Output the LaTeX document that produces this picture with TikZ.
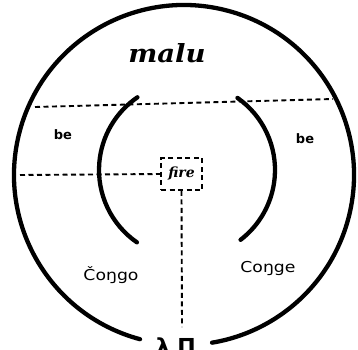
\documentclass[tikz,border=0pt]{standalone}
\usepackage{fontspec}
\newfontfamily\dejavu{DejaVu Sans}
\newfontfamily\dserif{DejaVu Serif}
\begin{document}
\begin{tikzpicture}[x=1pt,y=-1pt,
  thickline/.style={line width=4.3pt,line cap=round},
  dashline/.style={line width=1.9pt,dash pattern=on 5pt off 3.5pt},
  hand/.style={font=\dserif\fontsize{25}{25}\selectfont\bfseries\itshape},
  word/.style={font=\dejavu\fontsize{15}{15}\selectfont},
  belab/.style={font=\dejavu\fontsize{13}{13}\selectfont\bfseries}]
\useasboundingbox (0,0) rectangle (358,349);
% outer circle with a gap at the bottom
\draw[thickline] (184,175) ++(105:170) arc[start angle=105,end angle=440.5,radius=170];
% inner arcs
\draw[thickline] (187,170) ++(124.7:88) arc[start angle=124.7,end angle=235.7,radius=88];
\draw[thickline] (187,170) ++(-55:88) arc[start angle=-55,end angle=52.5,radius=88];
% labels
\node[hand,xscale=1.1] (malu) at (167,53) {malu};
\node[belab] (beL) at (63,135) {be};
\node[belab] (beR) at (305,139) {be};
\node[word,xscale=1.15] (congoL) at (111,275) {Čoŋgo};
\node[word,xscale=1.15] (congoR) at (268,268) {Coŋge};
\node[dashline,draw,minimum width=41pt,minimum height=32pt,inner sep=0pt,
      font=\dserif\fontsize{14}{14}\selectfont\bfseries\itshape] (fire) at (181.5,174) {fire};
\node[anchor=north,font=\dejavu\fontsize{22}{22}\selectfont\bfseries] (bottom) at (176,334) {λ\,\,Π};
% dashed connectors
\coordinate (ulL) at (35,107);
\coordinate (ulR) at (333,99);
\coordinate (llL) at (20,175);
\coordinate (vEnd) at (182,327);
\draw[dashline] (ulL) -- (ulR);
\draw[dashline] (llL) -- (fire.west);
\draw[dashline] (fire.south) -- (vEnd);
\end{tikzpicture}
\end{document}
